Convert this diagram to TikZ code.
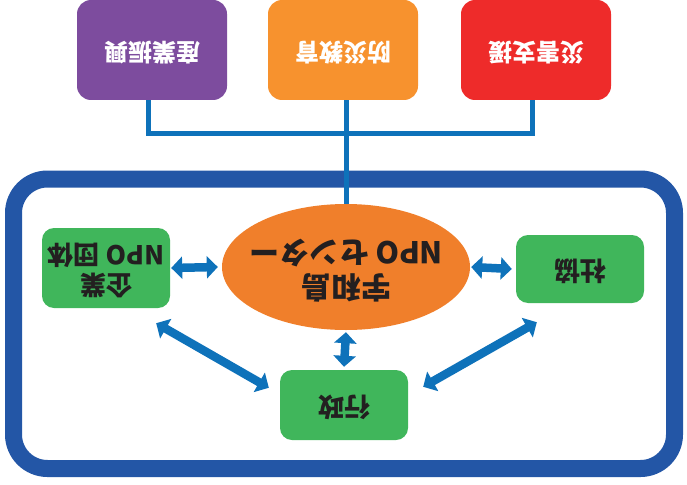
\documentclass[tikz,border=0pt]{standalone}
\usepackage{fontspec}
\setmainfont{Noto Sans CJK JP}
\usetikzlibrary{arrows.meta,shapes.geometric}
\definecolor{framebl}{HTML}{2356A6}
\definecolor{linkbl}{HTML}{0E72BA}
\definecolor{purp}{HTML}{7D4C9E}
\definecolor{orng}{HTML}{F7922E}
\definecolor{redd}{HTML}{EE2B2A}
\definecolor{ellor}{HTML}{F07F2B}
\definecolor{grn}{HTML}{40B65B}
\definecolor{ink}{HTML}{231F20}
\newcommand\flip[1]{\rotatebox[origin=c]{180}{\begin{tabular}{@{}c@{}}#1\end{tabular}}}

\begin{document}
\begin{tikzpicture}[x=1pt,y=-1pt,
            topbox/.style={shape=rectangle, rounded corners=14pt, minimum width=150pt, minimum height=100pt, text=white, font=\bfseries\fontsize{24}{28}\selectfont},
            greenbox/.style={shape=rectangle, rounded corners=12pt, fill=grn, minimum width=128pt, text=ink, font=\bfseries\fontsize{26}{27}\selectfont},
            link/.style={linkbl, line width=5pt},
            both/.style={linkbl, line width=8.5pt, {Triangle[width=22pt,length=11pt]}-{Triangle[width=22pt,length=11pt]}}]
        \useasboundingbox (0,0) rectangle (687,484);

        % top row
        \node[topbox, fill=purp] (sangyo) at (152,50) {\flip{産業振興}};
        \node[topbox, fill=orng] (bosai) at (343,50) {\flip{防災教育}};
        \node[topbox, fill=redd] (saigai) at (536,50) {\flip{災害支援}};

        % outer frame
        \draw[framebl, line width=17pt, rounded corners=34pt] (13.5,179) rectangle (674.5,468.5);

        % centre and partners
        \node[shape=ellipse, fill=ellor, minimum width=248pt, minimum height=126pt, inner sep=0pt] (center) at (346,267) {};
        \node[text=ink, font=\bfseries\fontsize{30}{31}\selectfont] (centertext) at (center) {\flip{宇和島\\NPO センター}};
        \node[greenbox, minimum height=80pt] (kigyo) at (106,268) {\flip{企業\\NPO 団体}};
        \node[greenbox, minimum height=68pt] (shakyo) at (580,269) {\flip{社協}};
        \node[greenbox, minimum height=70pt] (gyosei) at (344,405) {\flip{行政}};

        \coordinate (bar) at (346,133);
        \draw[link] (sangyo.south -| 148,0) |- (bar) -| (saigai.south -| 532,0);
        \draw[link] (bosai.south -| bar) -- (center.north);

        \draw[both] ([xshift=1pt]kigyo.east) -- ([xshift=-4pt]center.west);
        \draw[both] ([xshift=1pt]center.east) -- ([xshift=-4pt]shakyo.west);
        \draw[both] ([yshift=-2pt]center.south) -- ([yshift=3pt]gyosei.north);
        \draw[both] ([xshift=-14pt,yshift=-15pt]kigyo.south east) -- ([xshift=-11pt,yshift=-18pt]gyosei.north west);
        \draw[both] ([xshift=21pt,yshift=-19pt]shakyo.south west) -- ([xshift=15pt,yshift=-17pt]gyosei.north east);
    \end{tikzpicture}
\end{document}
